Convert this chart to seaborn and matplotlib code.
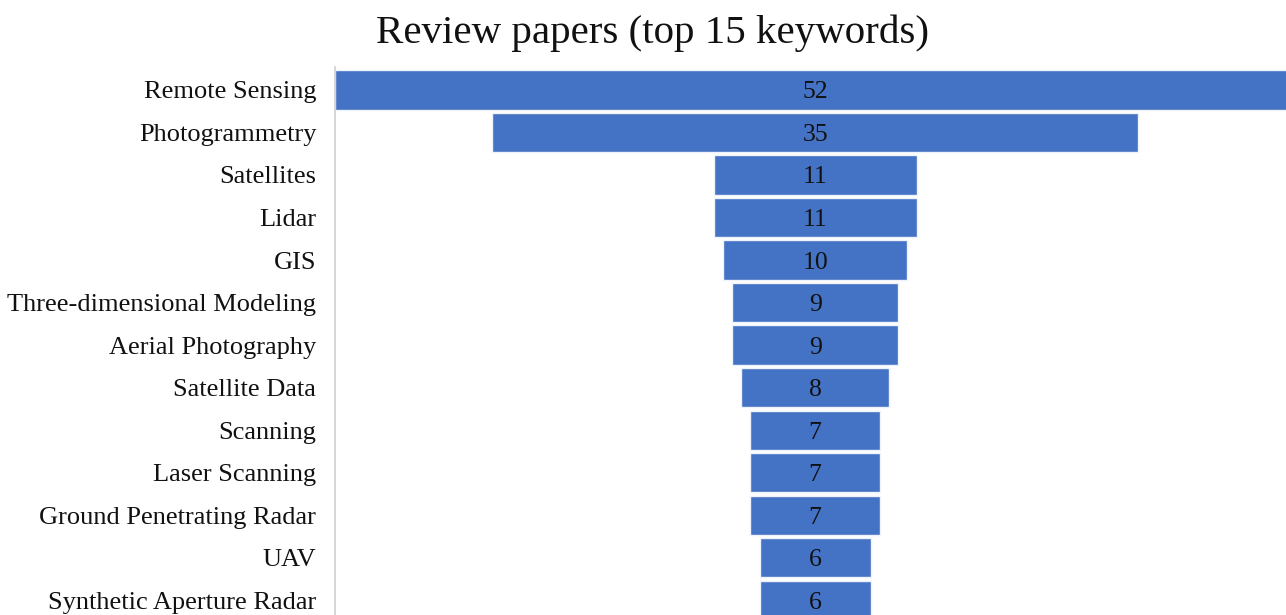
import matplotlib
matplotlib.use("Agg")
import matplotlib.pyplot as plt
import seaborn as sns
import pandas as pd

keywords = [
    "Remote Sensing", "Photogrammetry", "Satellites", "Lidar", "GIS",
    "Three-dimensional Modeling", "Aerial Photography", "Satellite Data",
    "Scanning", "Laser Scanning", "Ground Penetrating Radar", "UAV",
    "Synthetic Aperture Radar",
]
counts = [52, 35, 11, 11, 10, 9, 9, 8, 7, 7, 7, 6, 6]

df = pd.DataFrame({"keyword": keywords, "count": counts})

sns.set_theme(style="white")
plt.rcParams["font.family"] = ["Liberation Serif", "DejaVu Serif"]

W, H = 1286, 615
fig = plt.figure(figsize=(W / 100, H / 100), dpi=100)
ax_left, ax_right, ax_top, ax_bottom = 335, 1286, 67, 615
ax = fig.add_axes([ax_left / W, 1 - ax_bottom / H,
                   (ax_right - ax_left) / W, (ax_bottom - ax_top) / H])

sns.barplot(data=df, x="count", y="keyword", orient="h", color="#4472C4",
            saturation=1, width=0.92, edgecolor="#EEF2FA", linewidth=1.0, ax=ax)

# center every bar on zero to form a funnel
for patch, val in zip(ax.patches, counts):
    patch.set_x(-val / 2)
    ax.text(0, patch.get_y() + patch.get_height() / 2, f"{val}",
            ha="center", va="center_baseline", fontsize=18.5, color="#111111")

ax.set_xlim(-26, 25.5)
ax.set_ylim(12.35, -0.54)
ax.set_xlabel("")
ax.set_ylabel("")
ax.set_xticks([])
ax.tick_params(axis="y", length=0, pad=13.5, labelsize=19, labelcolor="#111111")
for label in ax.get_yticklabels():
    label.set_verticalalignment("center_baseline")
for side in ["top", "right", "bottom"]:
    ax.spines[side].set_visible(False)
ax.spines["left"].set_color("#D0D0D0")
ax.spines["left"].set_linewidth(1.2)

fig.text(652 / W, 1 - 33 / H, "Review papers (top 15 keywords)",
         ha="center", va="center", fontsize=29.5, color="#111111")

fig.savefig("out.png", dpi=100)
